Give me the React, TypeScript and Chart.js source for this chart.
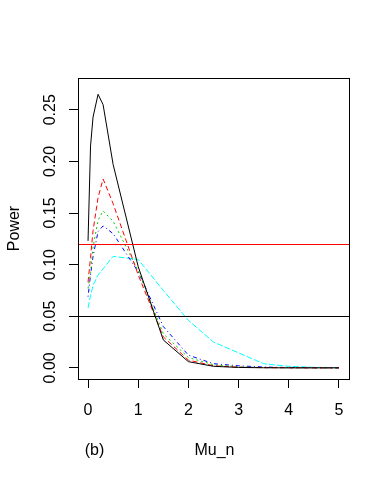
import React, { useEffect, useRef } from "react";
import { Chart, registerables } from "chart.js";

Chart.register(...registerables);

// Mu_n grid
const X_VALUES = [0, 0.05, 0.1, 0.2, 0.3, 0.5, 1, 1.5, 2, 2.5, 3, 3.5, 4, 4.5, 5];
// Power series
const BLACK_VALUES = [0.123, 0.215, 0.243, 0.265, 0.255, 0.197, 0.098, 0.027, 0.006, 0.0015, 0.0004, 0.0001, 0, 0, 0];
const RED_VALUES = [0.083, 0.107, 0.133, 0.165, 0.183, 0.159, 0.09, 0.03, 0.0075, 0.002, 0.0006, 0.0002, 0.0001, 0, 0];
const GREEN_VALUES = [0.077, 0.092, 0.117, 0.143, 0.152, 0.142, 0.094, 0.033, 0.01, 0.003, 0.001, 0.0003, 0.0001, 0, 0];
const BLUE_VALUES = [0.069, 0.09, 0.108, 0.132, 0.1375, 0.13, 0.093, 0.04, 0.0123, 0.004, 0.002, 0.0008, 0.0003, 0.0001, 0];
const CYAN_VALUES = [0.058, 0.07, 0.08, 0.09, 0.096, 0.108, 0.105, 0.075, 0.046, 0.025, 0.0145, 0.004, 0.0015, 0.0005, 0.0002];

// reference lines (abline h=)
const REF_LINES = [0.05, 0.12];
const REF_COLORS = ["#000000", "#FF0000"];

const X_TICKS = [0, 1, 2, 3, 4, 5];
const Y_TICKS = [0, 0.05, 0.1, 0.15, 0.2, 0.25];
const X_LABEL = "Mu_n";
const Y_LABEL = "Power";
const PANEL_LABEL = "(b)";

const FONT = '16px "Liberation Sans", Arial, sans-serif';

const rStylePlugin = {
  id: "rStyle",
  afterDatasetsDraw(chart: any) {
    const { ctx, chartArea, scales } = chart;
    ctx.save();
    ctx.lineWidth = 1;
    REF_LINES.forEach((v, i) => {
      const y = Math.round(scales.y.getPixelForValue(v)) + 0.5;
      ctx.strokeStyle = REF_COLORS[i];
      ctx.beginPath();
      ctx.moveTo(chartArea.left, y);
      ctx.lineTo(chartArea.right, y);
      ctx.stroke();
    });
    ctx.restore();
  },
  afterDraw(chart: any) {
    const { ctx, chartArea, scales } = chart;
    ctx.save();
    // box
    ctx.strokeStyle = "#000";
    ctx.lineWidth = 1;
    ctx.strokeRect(
      chartArea.left + 0.5,
      chartArea.top + 0.5,
      chartArea.right - chartArea.left,
      chartArea.bottom - chartArea.top
    );
    ctx.fillStyle = "#000";
    ctx.font = FONT;
    // x tick labels
    ctx.textAlign = "center";
    ctx.textBaseline = "alphabetic";
    X_TICKS.forEach((v) => {
      ctx.fillText(String(v), scales.x.getPixelForValue(v), chartArea.bottom + 35.5);
    });
    // x title and panel label
    ctx.fillText(X_LABEL, (chartArea.left + chartArea.right) / 2 + 1, chartArea.bottom + 76);
    ctx.fillText(PANEL_LABEL, 94.5, chartArea.bottom + 76);
    // y tick labels (rotated)
    Y_TICKS.forEach((v) => {
      ctx.save();
      ctx.translate(chartArea.left - 23, scales.y.getPixelForValue(v));
      ctx.rotate(-Math.PI / 2);
      ctx.fillText(v.toFixed(2), 0, 0);
      ctx.restore();
    });
    // y title
    ctx.save();
    ctx.translate(18.5, (chartArea.top + chartArea.bottom) / 2);
    ctx.rotate(-Math.PI / 2);
    ctx.fillText(Y_LABEL, 0, 0);
    ctx.restore();
    ctx.restore();
  },
};

function series(values: number[], color: string, dash: number[]) {
  return {
    data: X_VALUES.map((x, i) => ({ x, y: values[i] })),
    borderColor: color,
    backgroundColor: color,
    borderWidth: 1,
    borderDash: dash,
    pointRadius: 0,
    tension: 0,
    fill: false,
  };
}

export default function App() {
  const canvasRef = useRef<HTMLCanvasElement | null>(null);

  useEffect(() => {
    const canvas = canvasRef.current;
    if (!canvas) return;
    const chart = new Chart(canvas, {
      type: "line",
      data: {
        datasets: [
          series(BLACK_VALUES, "#000000", []),
          series(RED_VALUES, "#FF0000", [5, 3]),
          series(GREEN_VALUES, "#00CD00", [2, 3]),
          series(BLUE_VALUES, "#0000FF", [1, 3, 4, 3]),
          series(CYAN_VALUES, "#00FFFF", [6, 2]),
        ] as any,
      },
      options: {
        animation: false,
        responsive: false,
        devicePixelRatio: 1,
        layout: { padding: { top: 78, right: 42, left: 0, bottom: 0 } },
        plugins: {
          legend: { display: false },
          tooltip: { enabled: false },
          title: { display: false },
        },
        scales: {
          x: {
            type: "linear",
            min: -0.2,
            max: 5.2,
            afterBuildTicks: (scale: any) => {
              scale.ticks = X_TICKS.map((value) => ({ value }));
            },
            afterFit: (scale: any) => {
              scale.height = 98;
            },
            ticks: { display: false },
            grid: {
              display: true,
              drawOnChartArea: false,
              drawTicks: true,
              tickLength: 9,
              color: "#000",
              lineWidth: 1,
            },
            border: { display: false },
          },
          y: {
            type: "linear",
            min: -0.0108,
            max: 0.2808,
            afterBuildTicks: (scale: any) => {
              scale.ticks = Y_TICKS.map((value) => ({ value }));
            },
            afterFit: (scale: any) => {
              scale.width = 78;
            },
            ticks: { display: false },
            grid: {
              display: true,
              drawOnChartArea: false,
              drawTicks: true,
              tickLength: 9,
              color: "#000",
              lineWidth: 1,
            },
            border: { display: false },
          },
        },
      } as any,
      plugins: [rStylePlugin],
    });
    return () => chart.destroy();
  }, []);

  return (
    <div style={{ position: "fixed", left: 0, top: 0, width: 391, height: 477, background: "#fff" }}>
      <canvas ref={canvasRef} width={391} height={477} />
    </div>
  );
}
